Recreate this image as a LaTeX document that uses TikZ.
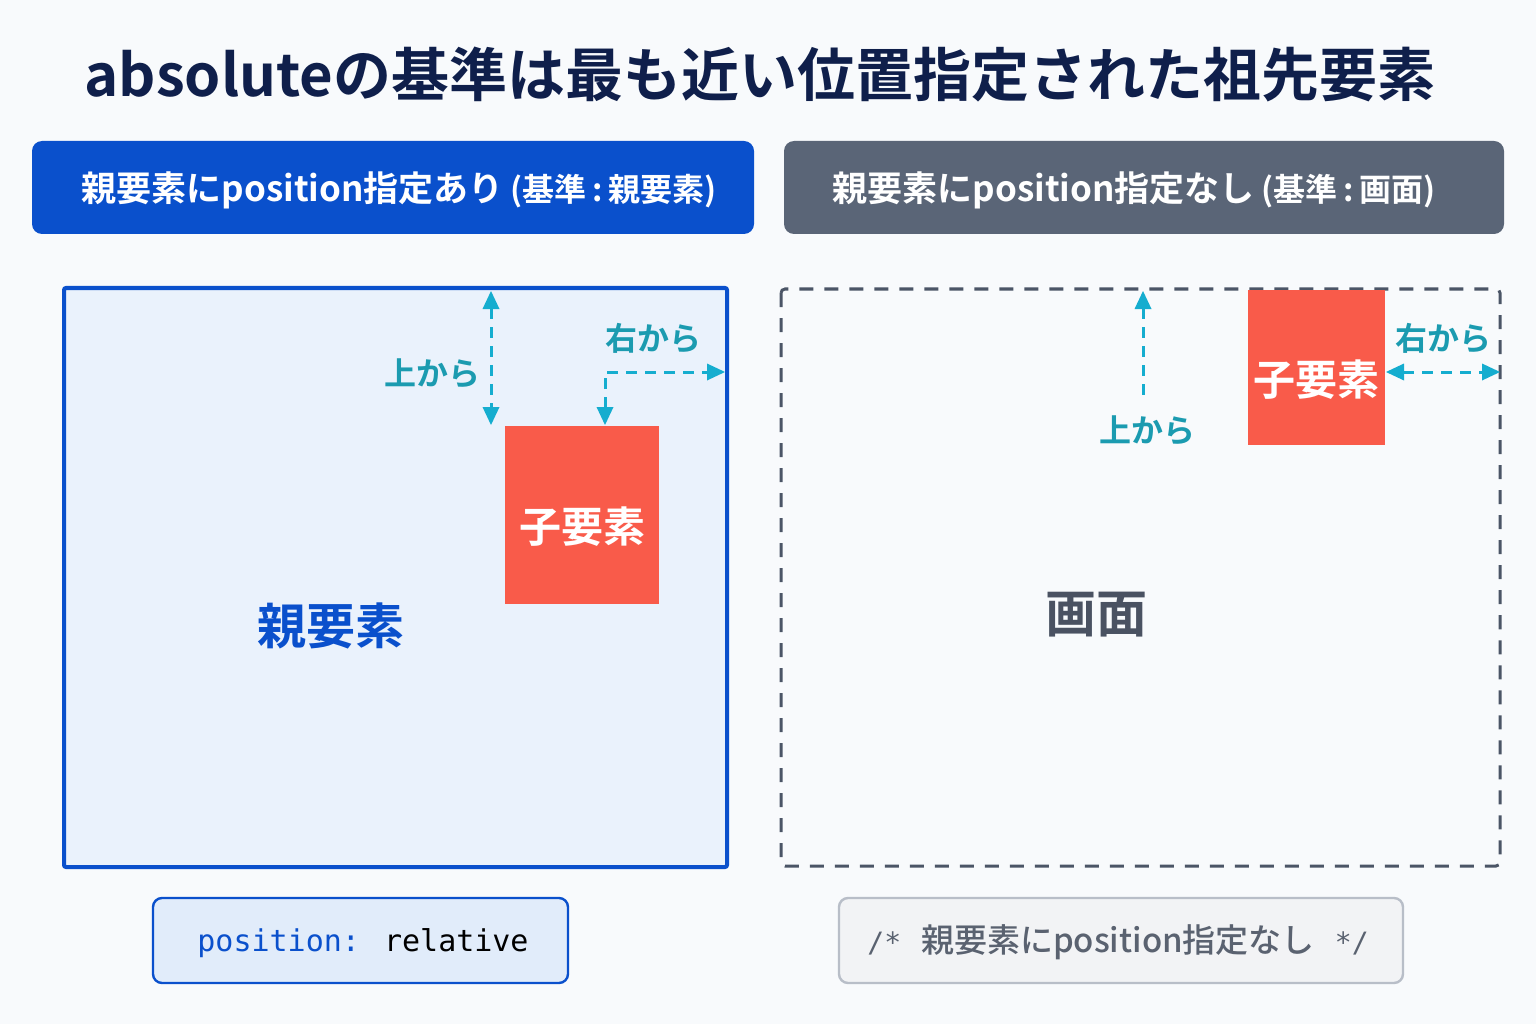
\documentclass[tikz,border=0pt]{standalone}
\usepackage{fontspec}
\setmainfont{Noto Sans CJK JP}
\newfontfamily\jpb{Noto Sans CJK JP Bold}
\newfontfamily\jpm{Noto Sans CJK JP Medium}
\newfontfamily\monof{DejaVu Sans Mono}
\usetikzlibrary{arrows.meta}
\definecolor{bgc}{HTML}{F8FAFC}
\definecolor{navy}{HTML}{0F1F4B}
\definecolor{blueh}{HTML}{0A50CC}
\definecolor{grayh}{HTML}{5A6577}
\definecolor{parentfill}{HTML}{EAF2FC}
\definecolor{childred}{HTML}{F95B4A}
\definecolor{arrowc}{HTML}{15ADCF}
\definecolor{labelc}{HTML}{1B9BB0}
\definecolor{dashc}{HTML}{4B5566}
\definecolor{screentxt}{HTML}{4A5262}
\definecolor{codeblue}{HTML}{E1ECFA}
\definecolor{codegray}{HTML}{F2F3F5}
\definecolor{codegrayd}{HTML}{B8BEC8}
\definecolor{commentc}{HTML}{5A6270}
\tikzset{
  hdr/.style={rounded corners=10pt, minimum height=93pt, text=white},
  hdrtext/.style={text=white, font=\jpb\fontsize{35}{38}\selectfont},
  childbox/.style={fill=childred, draw=none},
  childtext/.style={text=white, font=\jpb\fontsize{42}{46}\selectfont},
  dimarrow/.style={draw=arrowc, line width=3pt, dash pattern=on 11pt off 8pt},
  lbl/.style={text=labelc, font=\jpb\fontsize{32}{35}\selectfont},
  codebox/.style={rounded corners=9pt, line width=2.4pt, minimum height=85pt},
}
\newcommand{\ptext}[1]{{\fontsize{32}{34}\selectfont\hspace{7pt}(#1)}}
\begin{document}
\begin{tikzpicture}[x=1pt,y=-1pt]
\useasboundingbox (0,0) rectangle (1536,1024);
\fill[bgc] (0,0) rectangle (1536,1024);
% title
\node[text=navy, font=\jpb\fontsize{58}{64}\selectfont] (title) at (760,75) {absoluteの基準は最も近い位置指定された祖先要素};
% headers
\node[hdr, fill=blueh, minimum width=722pt] (hl) at (393,187.5) {};
\node[hdrtext] (hlt) at (399,190) {親要素にposition指定あり\ptext{基準\,:\,親要素}};
\node[hdr, fill=grayh, minimum width=720pt] (hr) at (1144,187.5) {};
\node[hdrtext] (hrt) at (1134,190) {親要素にposition指定なし\ptext{基準\,:\,画面}};
% left parent box
\draw[fill=parentfill, draw=blueh, line width=4pt, rounded corners=2pt] (64,288) rectangle (727,867);
\coordinate (pright) at (725,372);
\node[childbox, minimum width=154pt, minimum height=178pt] (cl) at (582,515) {};
\node[childtext] (clt) at (582,527) {子要素};
\node[text=blueh, font=\jpb\fontsize{49}{53}\selectfont] (pl) at (331,626) {親要素};
% left arrows
\draw[dimarrow] (491,308) -- (491,408);
\fill[arrowc] (491,291) -- (482.5,309) -- (499.5,309) -- cycle;
\fill[arrowc] (491,425) -- (482.5,407) -- (499.5,407) -- cycle;
\coordinate (corner) at (605,372);
\draw[dimarrow] (605,408) -- (corner) -- (707,372);
\fill[arrowc] (605,425) -- (596.5,407) -- (613.5,407) -- cycle;
\fill[arrowc] (pright) -- ++(-18,-8.5) -- ++(0,17) -- cycle;
\node[lbl] (lt) at (432,373) {上から};
\node[lbl] (lr) at (653,338) {右から};
% right screen box
\draw[draw=dashc, line width=3pt, dash pattern=on 14pt off 11pt, rounded corners=4pt] (781,289) rectangle (1500,866);
\node[childbox, minimum width=137pt, minimum height=155pt] (cr) at (1316.5,367.5) {};
\node[childtext] (crt) at (1316.5,380) {子要素};
\node[text=screentxt, font=\jpb\fontsize{51}{55}\selectfont] (scr) at (1096,615) {画面};
\draw[dimarrow] (1143,308) -- (1143,398);
\fill[arrowc] (1143,291) -- (1134.5,309) -- (1151.5,309) -- cycle;
\draw[dimarrow] (1403,372) -- (1483,372);
\fill[arrowc] (1386,372) -- ++(18,-8.5) -- ++(0,17) -- cycle;
\fill[arrowc] (1500,372) -- ++(-18,-8.5) -- ++(0,17) -- cycle;
\node[lbl] (rt) at (1147,430) {上から};
\node[lbl] (rr) at (1443,338) {右から};
% code boxes
\node[codebox, fill=codeblue, draw=blueh, minimum width=415pt] (c1) at (360.5,940.5) {};
\node (c1t) at (363,943)
  {\monof\fontsize{30}{33}\selectfont\textcolor{blueh}{position:} \textcolor{black}{relative}};
\node[codebox, fill=codegray, draw=codegrayd, minimum width=564pt] (c2) at (1121,940.5) {};
\node[text=commentc] (c2t) at (1118,942)
  {\monof\fontsize{28}{30}\selectfont /*\hspace{20pt}{\jpm\fontsize{33}{35}\selectfont 親要素にposition指定なし}\hspace{20pt}*/};
\end{tikzpicture}
\end{document}
